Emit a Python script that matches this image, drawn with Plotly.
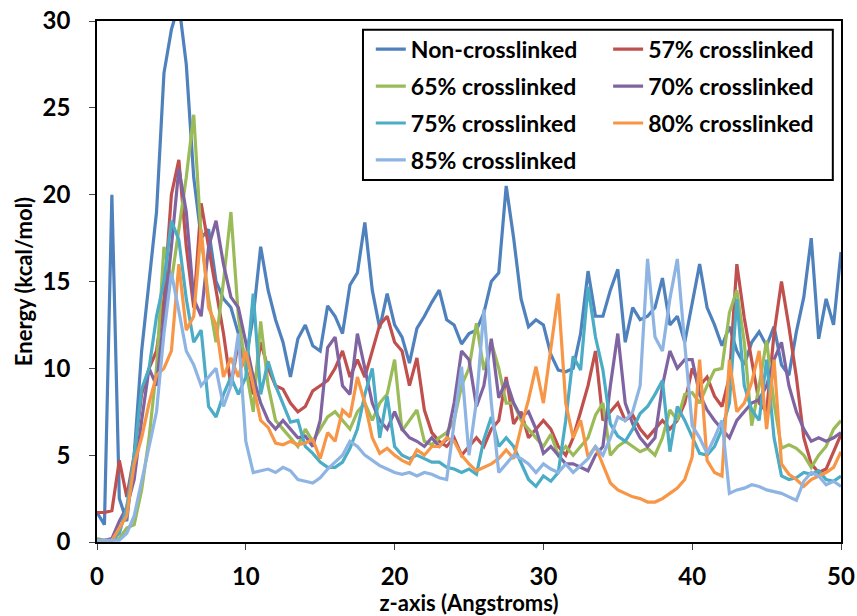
import plotly.graph_objects as go

# shared z grid (Angstroms), step 0.5
z = [i * 0.5 for i in range(101)]

non_crosslinked = [1.7, 1.0, 20.0, 2.5, 1.2, 5.0, 11.0, 15.0, 19.0, 27.0,
                   29.5, 31.0, 27.5, 21.0, 17.5, 18.0, 15.0, 14.0, 13.5, 12.0,
                   10.5, 13.0, 17.0, 14.5, 12.8, 11.5, 9.5, 11.7, 12.5, 11.3,
                   11.0, 13.6, 13.0, 12.0, 14.8, 15.5, 18.4, 14.5, 12.3, 14.3,
                   12.5, 11.8, 10.3, 12.3, 13.0, 13.8, 14.5, 12.8, 12.5, 11.4,
                   12.0, 12.2, 13.2, 15.0, 15.5, 20.5, 17.5, 14.0, 12.4, 12.8,
                   12.5, 10.8, 9.9, 9.8, 10.0, 12.0, 15.6, 13.0, 13.0, 14.5,
                   15.7, 11.5, 13.5, 12.8, 13.0, 13.5, 15.2, 12.5, 13.0, 11.5,
                   13.8, 16.0, 13.5, 12.5, 11.3, 12.4, 11.0, 10.2, 11.5, 12.1,
                   11.3, 12.4, 10.2, 9.6, 12.1, 14.1, 17.5, 11.7, 14.0, 12.5,
                   16.7]

cl57 = [1.7, 1.7, 1.8, 4.7, 2.6, 5.0, 8.5, 10.0, 11.0, 14.0,
        20.0, 22.0, 17.0, 13.5, 19.5, 17.0, 14.5, 12.0, 9.0, 11.5,
        10.0, 8.5, 11.5, 10.0, 9.0, 8.8, 8.0, 7.5, 7.8, 8.7,
        9.0, 9.3, 10.0, 11.0, 9.5, 10.5, 9.5, 11.0, 12.5, 13.0,
        11.5, 11.0, 9.0, 10.6, 7.6, 6.3, 5.8, 5.5, 6.0, 5.0,
        5.5, 6.0, 5.5, 6.5, 7.0, 9.5, 6.8, 7.5, 6.0, 6.5,
        7.0, 6.5, 5.5, 5.0, 6.0, 7.5, 9.0, 11.0, 7.0, 7.5,
        8.0, 7.0, 7.3, 6.5, 6.0, 6.5, 7.0, 6.5, 7.0, 8.0,
        10.0, 9.0, 9.5, 8.4, 7.8, 9.5, 16.0, 12.9, 10.5, 8.0,
        7.5, 12.0, 15.0, 12.4, 9.5, 6.0, 4.5, 4.0, 4.2, 5.2,
        6.2]

cl65 = [0.2, 0.1, 0.1, 0.2, 0.8, 1.0, 3.0, 6.0, 10.0, 17.0,
        15.0, 18.0, 21.0, 24.6, 17.5, 14.0, 11.5, 15.0, 19.0, 13.0,
        10.0, 7.5, 12.7, 9.0, 7.0, 6.5, 6.0, 5.5, 6.5, 5.8,
        6.5, 7.2, 7.5, 7.0, 6.5, 7.5, 8.0, 7.0, 8.0, 8.5,
        10.5, 6.4, 7.0, 7.6, 5.8, 5.6, 6.0, 6.3, 7.0, 9.0,
        10.0, 12.6, 9.9, 11.5, 10.0, 8.0, 8.0, 7.0, 6.5, 6.0,
        5.5, 6.2, 5.0, 5.5, 5.0, 5.5, 6.0, 7.3, 8.0, 5.0,
        5.5, 5.8, 5.5, 5.2, 5.4, 5.0, 6.0, 7.6, 7.0, 8.5,
        8.6, 8.0, 9.0, 9.9, 10.0, 13.2, 14.5, 11.5, 6.7, 9.0,
        11.6, 8.0, 5.4, 5.6, 5.4, 5.0, 4.3, 5.0, 5.5, 6.5,
        7.0]

cl70 = [0.1, 0.1, 0.2, 1.2, 2.0, 3.6, 7.0, 10.0, 9.0, 13.0,
        17.0, 21.5, 19.0, 14.0, 13.0, 17.0, 18.5, 16.0, 14.1, 13.5,
        11.5, 9.5, 8.0, 7.0, 6.5, 7.0, 6.5, 6.0, 6.1, 5.5,
        7.0, 11.2, 11.8, 9.0, 8.5, 12.0, 10.0, 8.0, 7.0, 6.5,
        7.5, 6.5, 6.0, 5.8, 5.5, 6.0, 5.5, 5.9, 8.0, 11.0,
        10.5, 7.8, 9.0, 11.7, 8.3, 9.3, 8.0, 7.2, 7.5, 6.5,
        5.1, 5.5, 5.0, 4.5, 4.5, 4.3, 4.1, 5.0, 5.5, 9.0,
        12.0, 8.0, 6.8, 6.0, 5.5, 6.0, 9.0, 11.0, 10.0, 10.5,
        10.5, 8.5, 7.6, 7.0, 6.5, 6.0, 7.0, 7.5, 8.0, 8.2,
        9.0, 10.5, 11.5, 9.0, 7.5, 6.5, 5.8, 6.0, 5.8, 6.0,
        6.3]

cl75 = [0.0, 0.0, 0.1, 0.5, 2.0, 5.0, 8.8, 10.0, 13.0, 15.0,
        18.5, 17.4, 14.0, 11.5, 12.2, 7.8, 7.2, 8.5, 9.5, 8.5,
        9.5, 14.3, 8.5, 10.4, 9.0, 8.0, 6.9, 7.0, 5.5, 5.1,
        4.6, 4.3, 4.3, 4.6, 5.4, 6.5, 8.5, 10.0, 6.0, 8.4,
        5.5, 5.0, 4.8, 5.0, 4.8, 4.6, 4.6, 4.3, 4.2, 4.0,
        4.2, 3.9, 5.9, 7.2, 5.5, 6.0, 5.5, 4.5, 3.6, 3.2,
        3.8, 3.5, 4.0, 7.0, 10.7, 9.9, 14.7, 11.8, 9.9, 6.8,
        6.1, 5.8, 6.5, 7.4, 7.8, 8.5, 9.3, 5.2, 7.8, 7.0,
        6.0, 5.1, 5.0, 5.5, 6.5, 8.0, 14.0, 9.0, 7.6, 7.0,
        10.5, 6.0, 3.8, 3.6, 3.7, 4.0, 3.9, 4.1, 3.6, 3.5,
        3.8]

cl80 = [0.0, 0.0, 0.1, 0.8, 1.5, 4.5, 6.0, 8.0, 9.6, 10.0,
        11.0, 16.0, 12.2, 13.0, 18.0, 13.5, 12.5, 9.5, 10.6, 9.5,
        11.0, 9.0, 7.0, 6.6, 5.7, 5.6, 5.8, 5.6, 5.7, 5.9,
        4.8, 6.3, 5.8, 7.6, 7.2, 9.5, 8.0, 6.0, 5.1, 5.4,
        5.0, 4.7, 4.5, 5.3, 5.0, 5.5, 5.5, 6.0, 5.8, 5.0,
        4.5, 4.1, 4.3, 4.5, 4.8, 5.3, 4.8, 6.6, 8.2, 10.1,
        8.0, 11.1, 14.3, 8.0, 6.0, 7.0, 4.9, 5.5, 4.5, 3.4,
        3.0, 2.8, 2.6, 2.5, 2.3, 2.3, 2.5, 2.8, 3.1, 3.6,
        4.9, 10.5, 4.7, 4.0, 3.8, 10.5, 7.5, 8.0, 9.2, 11.0,
        6.5, 10.5, 4.5, 3.9, 3.6, 3.2, 3.6, 3.8, 4.0, 4.3,
        5.2]

cl85 = [0.1, 0.1, 0.1, 0.1, 0.5, 1.5, 3.5, 5.5, 7.5, 12.0,
        15.5, 13.3, 11.0, 10.2, 9.0, 9.5, 10.0, 7.8, 9.0, 12.0,
        5.8, 4.0, 4.1, 4.2, 4.0, 4.3, 4.1, 3.6, 3.5, 3.4,
        3.7, 4.2, 4.6, 5.0, 5.8, 5.5, 5.0, 4.7, 4.4, 4.2,
        4.0, 3.9, 4.0, 3.8, 4.0, 3.9, 3.7, 3.6, 7.0, 10.1,
        5.0, 8.1, 13.4, 8.0, 4.0, 4.5, 5.0, 4.8, 4.5, 4.0,
        4.5, 4.2, 4.0, 4.5, 4.0, 4.4, 4.8, 5.5, 5.0, 6.0,
        7.2, 7.0, 7.5, 9.0, 16.3, 11.8, 11.0, 14.0, 16.3, 11.4,
        6.7, 6.0, 5.1, 6.0, 7.0, 2.8, 3.0, 3.1, 3.3, 3.2,
        3.0, 2.9, 2.8, 2.6, 2.4, 3.5, 4.0, 3.8, 3.3, 3.5,
        3.2]

names = ["Non-crosslinked", "57% crosslinked", "65% crosslinked",
         "70% crosslinked", "75% crosslinked", "80% crosslinked",
         "85% crosslinked"]
series = [non_crosslinked, cl57, cl65, cl70, cl75, cl80, cl85]
colors = ["#4F81BD", "#C0504D", "#9BBB59", "#8064A2", "#4BACC6",
          "#F79646", "#8DB4E2"]
legend_of = ["legend", "legend2", "legend", "legend2", "legend", "legend2", "legend"]

FONT = "Lato, Carlito, Calibri, sans-serif"

fig = go.Figure()
for name, ys, col, lg in zip(names, series, colors, legend_of):
    fig.add_trace(go.Scatter(x=z, y=ys, mode="lines", name=name,
                             line=dict(color=col, width=3.2),
                             legend=lg, legendgroup=name))

axis_common = dict(showgrid=False, zeroline=False, showline=True,
                   linecolor="black", linewidth=1.5, mirror=True,
                   ticks="outside", ticklen=6, tickwidth=1.2, tickcolor="#444",
                   automargin=False,
                   tickfont=dict(family=FONT, size=24, color="black", weight="bold"))

fig.update_xaxes(range=[0, 50], dtick=10, ticklabelstandoff=6,
                 title=dict(text="z-axis (Angstroms)", standoff=4,
                            font=dict(family=FONT, size=22, color="black", weight="bold")),
                 **axis_common)
fig.update_yaxes(range=[0, 30], dtick=5, ticklabelstandoff=14,
                 title=dict(text="Energy (kcal/mol)", standoff=4,
                            font=dict(family=FONT, size=22, color="black", weight="bold")),
                 **axis_common)

legend_font = dict(family=FONT, size=23, color="black", weight="bold")
fig.update_layout(
    width=857, height=616,
    margin=dict(l=97, r=16, t=21, b=74),
    paper_bgcolor="white", plot_bgcolor="white",
    legend=dict(x=0.368, y=0.987, xanchor="left", yanchor="top",
                bgcolor="rgba(0,0,0,0)", font=legend_font,
                traceorder="grouped", tracegroupgap=4, itemwidth=30),
    legend2=dict(x=0.687, y=0.987, xanchor="left", yanchor="top",
                 bgcolor="rgba(0,0,0,0)", font=legend_font,
                 traceorder="grouped", tracegroupgap=4, itemwidth=30),
    shapes=[dict(type="rect", xref="paper", yref="paper",
                 x0=0.3575, x1=0.989, y0=0.695, y1=0.983,
                 line=dict(color="black", width=2), fillcolor="white",
                 layer="above")],
)

fig.write_html("out.html",
               config={"displayModeBar": False},
               post_script="document.body.style.margin='0';document.body.style.overflow='hidden';")
